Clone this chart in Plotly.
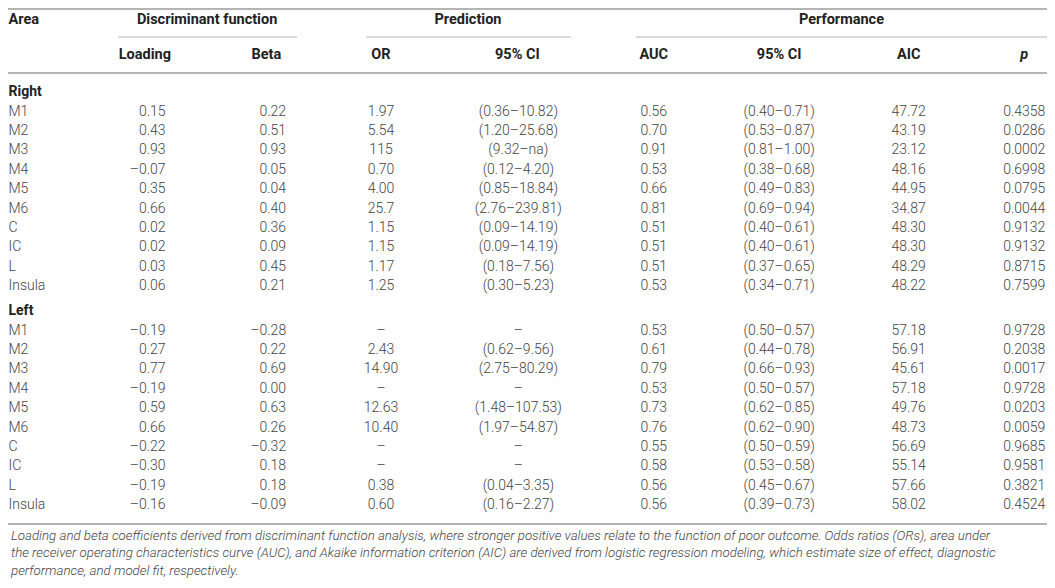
import plotly.graph_objects as go

# Table values
areas = ["M1", "M2", "M3", "M4", "M5", "M6", "C", "IC", "L", "Insula"]

loading_right = [0.15, 0.43, 0.93, -0.07, 0.35, 0.66, 0.02, 0.02, 0.03, 0.06]
beta_right = [0.22, 0.51, 0.93, 0.05, 0.04, 0.40, 0.36, 0.09, 0.45, 0.21]
or_right = ["1.97", "5.54", "115", "0.70", "4.00", "25.7", "1.15", "1.15", "1.17", "1.25"]
or_ci_right = ["(0.36–10.82)", "(1.20–25.68)", "(9.32–na)", "(0.12–4.20)", "(0.85–18.84)",
               "(2.76–239.81)", "(0.09–14.19)", "(0.09–14.19)", "(0.18–7.56)", "(0.30–5.23)"]
auc_right = [0.56, 0.70, 0.91, 0.53, 0.66, 0.81, 0.51, 0.51, 0.51, 0.53]
auc_ci_right = ["(0.40–0.71)", "(0.53–0.87)", "(0.81–1.00)", "(0.38–0.68)", "(0.49–0.83)",
                "(0.69–0.94)", "(0.40–0.61)", "(0.40–0.61)", "(0.37–0.65)", "(0.34–0.71)"]
aic_right = [47.72, 43.19, 23.12, 48.16, 44.95, 34.87, 48.30, 48.30, 48.29, 48.22]
p_right = ["0.4358", "0.0286", "0.0002", "0.6998", "0.0795", "0.0044", "0.9132", "0.9132", "0.8715", "0.7599"]

loading_left = [-0.19, 0.27, 0.77, -0.19, 0.59, 0.66, -0.22, -0.30, -0.19, -0.16]
beta_left = [-0.28, 0.22, 0.69, 0.00, 0.63, 0.26, -0.32, 0.18, 0.18, -0.09]
or_left = ["–", "2.43", "14.90", "–", "12.63", "10.40", "–", "–", "0.38", "0.60"]
or_ci_left = ["–", "(0.62–9.56)", "(2.75–80.29)", "–", "(1.48–107.53)",
              "(1.97–54.87)", "–", "–", "(0.04–3.35)", "(0.16–2.27)"]
auc_left = [0.53, 0.61, 0.79, 0.53, 0.73, 0.76, 0.55, 0.58, 0.56, 0.56]
auc_ci_left = ["(0.50–0.57)", "(0.44–0.78)", "(0.66–0.93)", "(0.50–0.57)", "(0.62–0.85)",
               "(0.62–0.90)", "(0.50–0.59)", "(0.53–0.58)", "(0.45–0.67)", "(0.39–0.73)"]
aic_left = [57.18, 56.91, 45.61, 57.18, 49.76, 48.73, 56.69, 55.14, 57.66, 58.02]
p_left = ["0.9728", "0.2038", "0.0017", "0.9728", "0.0203", "0.0059", "0.9685", "0.9581", "0.3821", "0.4524"]

groups = ["Right", "Left"]
caption = ("Loading and beta coefficients derived from discriminant function analysis, where stronger positive values "
           "relate to the function of poor outcome. Odds ratios (ORs), area under<br>the receiver operating "
           "characteristics curve (AUC), and Akaike information criterion (AIC) are derived from logistic regression "
           "modeling, which estimate size of effect, diagnostic<br>performance, and model fit, respectively.")

# page body keeps an 8px margin: figure lives in picture pixels 8..1047 x 8..580
W, H = 1055, 588
OFF = 8
BODY = "#444444"
HEAD = "#222222"
RULE = "#b4b4b4"
FONT = "Roboto"


def num(v):
    return f"{v:.2f}".replace("-", "–")


# row layout (reference picture pixel units)
ROW_STEP = 19.4
group_y = {"Right": 92, "Left": 311}
row_y = {g: [group_y[g] + 20 + i * ROW_STEP for i in range(len(areas))] for g in groups}

# column anchors: (key, x, textposition)
cols = [
    ("area", 3, "middle right"),
    ("loading", 162, "middle left"),
    ("beta", 284, "middle left"),
    ("or", 380, "middle center"),
    ("or_ci", 519, "middle center"),
    ("auc", 656, "middle center"),
    ("auc_ci", 783, "middle center"),
    ("aic", 914, "middle center"),
    ("p", 1031, "middle center"),
]

data = {
    "Right": {
        "area": areas, "loading": [num(v) for v in loading_right], "beta": [num(v) for v in beta_right],
        "or": or_right, "or_ci": or_ci_right, "auc": [num(v) for v in auc_right],
        "auc_ci": auc_ci_right, "aic": [num(v) for v in aic_right], "p": p_right,
    },
    "Left": {
        "area": areas, "loading": [num(v) for v in loading_left], "beta": [num(v) for v in beta_left],
        "or": or_left, "or_ci": or_ci_left, "auc": [num(v) for v in auc_left],
        "auc_ci": auc_ci_left, "aic": [num(v) for v in aic_left], "p": p_left,
    },
}

fig = go.Figure()


def add_text(xs, ys, texts, pos, color=BODY, weight=300, style="normal", size=14):
    fig.add_trace(go.Scatter(
        x=xs, y=ys, text=texts, mode="text", textposition=pos,
        textfont=dict(family=FONT, size=size, color=color, weight=weight, style=style),
        hoverinfo="skip", showlegend=False, cliponaxis=False,
    ))


# body cells
for g in groups:
    for key, x, pos in cols:
        vals = data[g][key]
        add_text([x] * len(vals), row_y[g], vals, pos)
    add_text([3], [group_y[g]], [g], "middle right", color=HEAD, weight=700)

# header row 1
add_text([3], [20], ["Area"], "middle right", color=HEAD, weight=700, size=14.5)
add_text([204, 468, 846], [20, 20, 20], ["Discriminant function", "Prediction", "Performance"],
         "middle center", color=HEAD, weight=700, size=14.5)

# header row 2
sub_x = [141, 264, 380, 518, 656, 783, 914, 1031]
sub_labels = ["Loading", "Beta", "OR", "95% CI", "AUC", "95% CI", "AIC", "<i>p</i>"]
add_text(sub_x, [55] * len(sub_x), sub_labels, "middle center", color=HEAD, weight=700, size=14.5)

# rules (top rule sits at the figure's top edge)
rules = [(0, W, OFF + 1, 2), (0, W, 73, 2), (0, W, 524, 2),
         (114, 295, 37, 1), (365, 572, 37, 1), (638, W, 37, 1)]
for x0, x1, y, w in rules:
    fig.add_shape(type="line", xref="x", yref="y", x0=x0, x1=x1, y0=y, y1=y,
                  line=dict(color=RULE, width=w))

fig.add_annotation(
    x=3, y=553, xref="x", yref="y", xanchor="left", yanchor="middle", align="left",
    text=caption, showarrow=False,
    font=dict(family=FONT, size=13.3, color=BODY, weight=300, style="italic"),
)

fig.update_xaxes(range=[2.5, 1054], visible=False, fixedrange=True)
fig.update_yaxes(range=[H - OFF, OFF], visible=False, fixedrange=True)
fig.update_layout(
    width=W - 2 * OFF, height=H - 2 * OFF, margin=dict(l=0, r=0, t=0, b=0),
    paper_bgcolor="white", plot_bgcolor="white",
)

fig.write_html("out.html")
